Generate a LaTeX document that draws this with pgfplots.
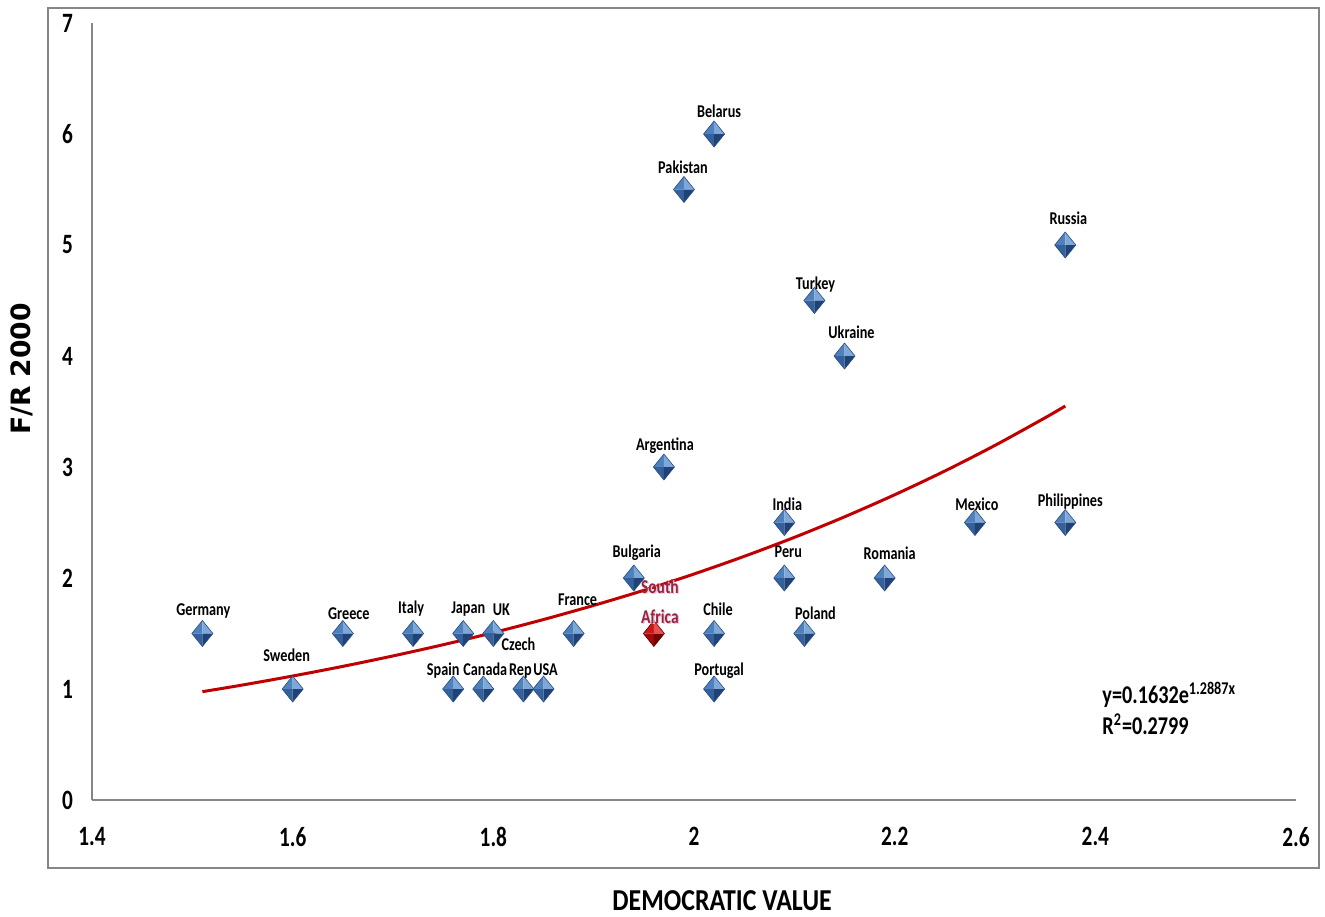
\documentclass[border=0pt]{standalone}
\usepackage{fontspec}
\setmainfont{Carlito}[FakeStretch=0.85]
\newfontfamily\tickfont{Carlito}[FakeStretch=0.76]
\newfontfamily\labfont{Carlito}[FakeStretch=0.79]
\newfontfamily\ylabfont{DejaVu Sans}
\usepackage{pgfplots}
\pgfplotsset{compat=1.18}
\usepackage{pgfplotstable}
\definecolor{axgray}{RGB}{134,134,134}
\definecolor{gemTL}{RGB}{79,129,189}
\definecolor{gemTR}{RGB}{125,168,216}
\definecolor{gemBL}{RGB}{52,96,156}
\definecolor{gemBR}{RGB}{33,66,118}
\definecolor{gemOL}{RGB}{40,76,130}
\definecolor{rgemTL}{RGB}{200,24,24}
\definecolor{rgemTR}{RGB}{232,80,80}
\definecolor{rgemBL}{RGB}{160,10,10}
\definecolor{rgemBR}{RGB}{115,0,0}
\definecolor{rgemOL}{RGB}{110,0,0}
\definecolor{trend}{RGB}{192,0,0}
\definecolor{salabel}{RGB}{150,36,70}
\definecolor{saglow}{RGB}{242,196,206}

\newcommand\gemfacets[5]{%
  \pgfsetlinewidth{0.3pt}%
  \pgfsetfillcolor{#1}%
  \pgfpathmoveto{\pgfqpoint{0pt}{\pgfplotmarksize}}%
  \pgfpathlineto{\pgfqpoint{-0.81\pgfplotmarksize}{0pt}}%
  \pgfpathlineto{\pgfqpoint{0pt}{0pt}}%
  \pgfpathclose\pgfusepathqfill
  \pgfsetfillcolor{#2}%
  \pgfpathmoveto{\pgfqpoint{0pt}{\pgfplotmarksize}}%
  \pgfpathlineto{\pgfqpoint{0.81\pgfplotmarksize}{0pt}}%
  \pgfpathlineto{\pgfqpoint{0pt}{0pt}}%
  \pgfpathclose\pgfusepathqfill
  \pgfsetfillcolor{#3}%
  \pgfpathmoveto{\pgfqpoint{0pt}{-\pgfplotmarksize}}%
  \pgfpathlineto{\pgfqpoint{-0.81\pgfplotmarksize}{0pt}}%
  \pgfpathlineto{\pgfqpoint{0pt}{0pt}}%
  \pgfpathclose\pgfusepathqfill
  \pgfsetfillcolor{#4}%
  \pgfpathmoveto{\pgfqpoint{0pt}{-\pgfplotmarksize}}%
  \pgfpathlineto{\pgfqpoint{0.81\pgfplotmarksize}{0pt}}%
  \pgfpathlineto{\pgfqpoint{0pt}{0pt}}%
  \pgfpathclose\pgfusepathqfill
  \pgfsetstrokecolor{#5}%
  \pgfpathmoveto{\pgfqpoint{0pt}{\pgfplotmarksize}}%
  \pgfpathlineto{\pgfqpoint{0.81\pgfplotmarksize}{0pt}}%
  \pgfpathlineto{\pgfqpoint{0pt}{-\pgfplotmarksize}}%
  \pgfpathlineto{\pgfqpoint{-0.81\pgfplotmarksize}{0pt}}%
  \pgfpathclose\pgfusepathqstroke
}
\pgfdeclareplotmark{gemblue}{\gemfacets{gemTL}{gemTR}{gemBL}{gemBR}{gemOL}}
\pgfdeclareplotmark{gemred}{\gemfacets{rgemTL}{rgemTR}{rgemBL}{rgemBR}{rgemOL}}

\pgfplotstableread{
x y
1.51 1.5
1.60 1
1.65 1.5
1.72 1.5
1.77 1.5
1.80 1.5
1.76 1
1.79 1
1.83 1
1.85 1
1.88 1.5
1.94 2
1.97 3
1.99 5.5
2.02 6
2.02 1.5
2.02 1
2.09 2.5
2.09 2
2.11 1.5
2.12 4.5
2.15 4
2.19 2
2.28 2.5
2.37 5
2.37 2.5
}\countries

\pgfplotstableread{
x y
1.96 1.5
}\southafrica

\pgfplotstableread{
x y
1.51 0.976
1.55 1.036
1.60 1.117
1.65 1.204
1.70 1.298
1.75 1.399
1.80 1.508
1.85 1.626
1.90 1.753
1.95 1.889
2.00 2.036
2.05 2.195
2.10 2.366
2.15 2.551
2.20 2.750
2.25 2.964
2.30 3.195
2.35 3.444
2.37 3.549
}\trendline

\pgfplotstableread{
x y name
2.025 6.207 Belarus
1.989 5.703 Pakistan
2.373 5.243 Russia
2.121 4.658 Turkey
2.157 4.216 Ukraine
1.971 3.207 Argentina
2.093 2.667 India
2.282 2.667 Mexico
2.375 2.703 Philippines
1.943 2.243 Bulgaria
2.094 2.243 Peru
2.195 2.225 Romania
1.511 1.721 Germany
1.656 1.685 Greece
1.718 1.739 Italy
1.775 1.739 Japan
1.808 1.721 UK
1.884 1.811 France
2.024 1.721 Chile
2.121 1.685 Poland
1.594 1.306 Sweden
1.825 1.405 Czech
1.827 1.180 Rep
1.750 1.180 Spain
1.792 1.180 Canada
1.852 1.180 USA
2.025 1.180 Portugal
}\labels

\pgfplotstableread{
x y name
1.966 1.919 South
1.966 1.649 Africa
}\salabels

\begin{document}
\begin{tikzpicture}
\path[use as bounding box] (0pt,0pt) rectangle (662.5pt,458pt);
\draw[axgray, line width=0.75pt] (24pt,24pt) rectangle (659.5pt,454pt);
\begin{axis}[
  at={(46pt,58pt)}, anchor=south west,
  scale only axis, width=602pt, height=388.5pt,
  xmin=1.4, xmax=2.6, ymin=0, ymax=7,
  xtick={1.4,1.6,1.8,2,2.2,2.4,2.6},
  ytick={0,1,2,3,4,5,6,7},
  axis x line=bottom, axis y line=left,
  axis line style={axgray, line width=0.7pt, -},
  major tick length=0pt,
  tick label style={font=\tickfont\fontsize{14}{15}\selectfont\bfseries},
  /pgf/number format/assume math mode=true,
  xticklabel style={yshift=-10pt},
  yticklabel style={xshift=-6pt},
  xlabel={DEMOCRATIC VALUE},
  xlabel style={at={(axis description cs:0.5233,-0.130)}, anchor=center,
    font=\fontsize{15.2}{17}\selectfont\bfseries},
  ylabel={F/R 2000},
  ylabel style={at={(axis description cs:-0.0581,0.5547)}, anchor=center,
    font=\ylabfont\fontsize{13.3}{15}\selectfont\bfseries},
  clip=false,
]
\addplot[only marks, mark=gemblue, mark size=6.5pt] table[x=x,y=y] {\countries};
\addplot[only marks, mark=gemred, mark size=6.5pt] table[x=x,y=y] {\southafrica};
\addplot[trend, line width=1.5pt, smooth, mark=none] table[x=x,y=y] {\trendline};
\addplot[only marks, mark=none, nodes near coords, point meta=explicit symbolic,
  every node near coord/.style={font=\labfont\fontsize{9}{10}\selectfont\bfseries, text=black,
    inner sep=0pt, text height=0.64em, text depth=0pt, anchor=center},
  nodes near coords align={anchor=center}]
  table[x=x,y=y,meta=name] {\labels};
\addplot[only marks, mark=none, nodes near coords, point meta=explicit symbolic,
  every node near coord/.style={font=\labfont\fontsize{9.8}{10}\selectfont\bfseries, text=saglow,
    inner sep=0pt, text height=0.64em, text depth=0pt, anchor=center, xshift=0.6pt, yshift=-0.6pt},
  nodes near coords align={anchor=center}]
  table[x=x,y=y,meta=name] {\salabels};
\addplot[only marks, mark=none, nodes near coords, point meta=explicit symbolic,
  every node near coord/.style={font=\labfont\fontsize{9.8}{10}\selectfont\bfseries, text=salabel,
    inner sep=0pt, text height=0.64em, text depth=0pt, anchor=center},
  nodes near coords align={anchor=center}]
  table[x=x,y=y,meta=name] {\salabels};
\node[anchor=west, inner sep=0pt, text height=0.64em, text depth=0pt,
  font=\labfont\fontsize{12.8}{13}\selectfont\bfseries]
  at (axis description cs:0.8389,0.1326) {y=0.1632e\textsuperscript{1.2887x}};
\node[anchor=west, inner sep=0pt, text height=0.64em, text depth=0pt,
  font=\labfont\fontsize{12.8}{13}\selectfont\bfseries]
  at (axis description cs:0.8389,0.0927) {R\textsuperscript{2}=0.2799};
\end{axis}
\end{tikzpicture}
\end{document}
